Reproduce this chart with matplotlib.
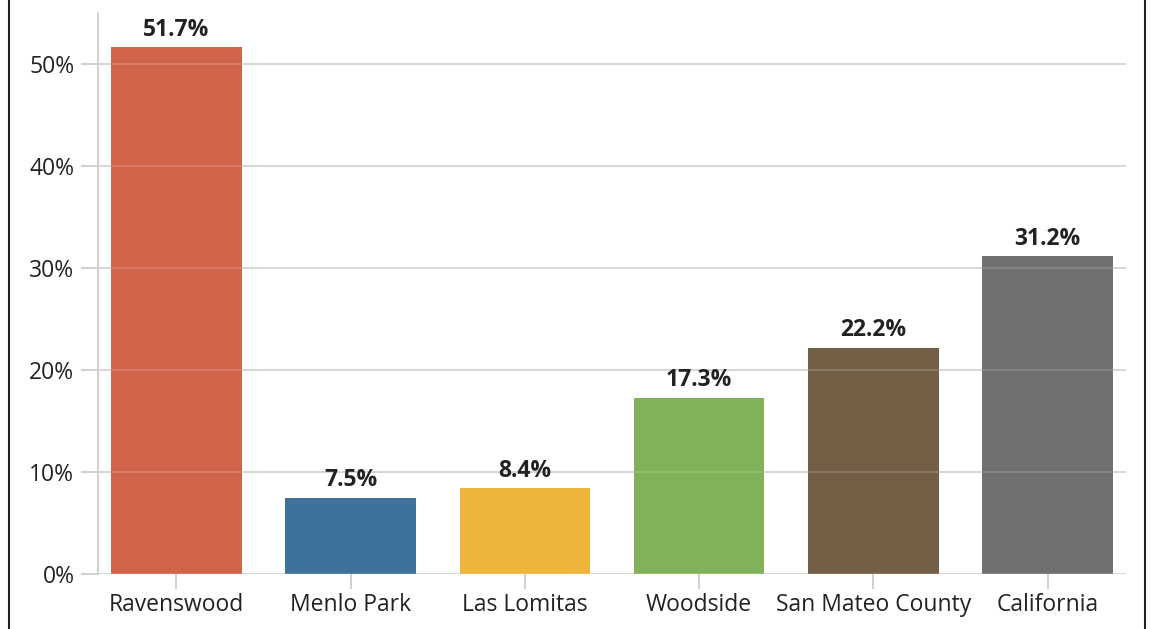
import matplotlib.pyplot as plt
from matplotlib.lines import Line2D
from matplotlib.ticker import FuncFormatter

plt.rcParams['font.family'] = ['Open Sans', 'Noto Sans', 'DejaVu Sans']

# data
districts = ["Ravenswood", "Menlo Park", "Las Lomitas", "Woodside", "San Mateo County", "California"]
pct = [51.7, 7.5, 8.4, 17.3, 22.2, 31.2]
bar_colors = ["#d1634b", "#3e719b", "#eeb53a", "#80b25a", "#735f46", "#707070"]
yticks = [0, 10, 20, 30, 40, 50]

fig = plt.figure(figsize=(11.56, 6.29), dpi=100)
ax = fig.add_axes([98 / 1156, 1 - 574 / 629, 1028 / 1156, 561 / 629])

x = range(len(districts))
ax.bar(x, pct, width=0.75, color=bar_colors, zorder=2)

# light grid lines, also faintly visible over the bars
ax.set_yticks(yticks)
ax.grid(axis='y', color='#d0d0d0', linewidth=1.4, zorder=1)
for t in yticks:
    ax.axhline(t, color='white', alpha=0.15, linewidth=1.4, zorder=3)

for xi, v in zip(x, pct):
    ax.text(xi, v + 0.5, f"{v}%", ha='center', va='bottom',
            fontsize=16.5, fontweight='bold', color='#222222')

ax.set_xlim(-0.45, len(districts) - 0.55)
ax.set_ylim(0, 55)
ax.set_xticks(list(x))
ax.set_xticklabels(districts)
ax.yaxis.set_major_formatter(FuncFormatter(lambda v, p: f"{v:.0f}%"))

for s in ['top', 'right', 'bottom']:
    ax.spines[s].set_visible(False)
ax.spines['left'].set_color('#d0d0d0')
ax.spines['left'].set_linewidth(1.4)
ax.tick_params(axis='both', colors='#d0d0d0', width=1.4, length=11,
               labelcolor='#222222', labelsize=16.5)
ax.tick_params(axis='y', length=12, pad=5)
ax.tick_params(axis='x', pad=3)

# outer frame lines left and right
fig.add_artist(Line2D([9 / 1156, 9 / 1156], [0, 1], color='#222222', linewidth=1.5))
fig.add_artist(Line2D([1145 / 1156, 1145 / 1156], [0, 1], color='#222222', linewidth=1.5))

fig.savefig("out.png", dpi=100)
